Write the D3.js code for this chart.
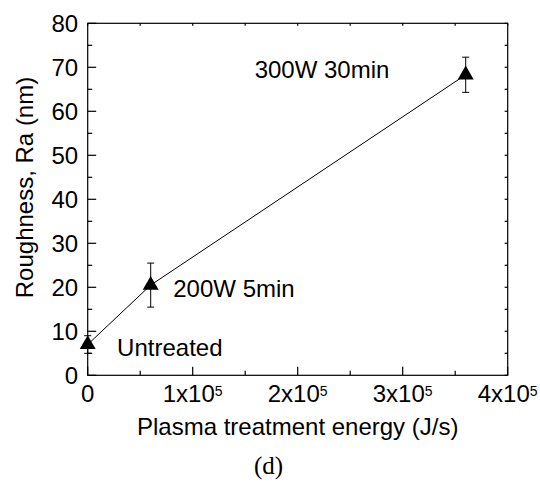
<!DOCTYPE html>
<html>
<head>
<meta charset="utf-8">
<script src="https://cdn.jsdelivr.net/npm/d3@7/dist/d3.min.js"></script>
<style>
  body { margin: 0; background: #fff; }
  svg { display: block; }
  text { font-family: "Liberation Sans", Arial, sans-serif; fill: #000; }
</style>
</head>
<body>
<svg id="chart" width="540" height="484"></svg>
<script>
// data
const labels = ['Untreated', '200W 5min', '300W 30min'];
const energy = [0, 6e4, 3.6e5];
const roughness = [7, 20.5, 68.3];
const errors = [2, 5, 4];
const xTicks = [0, 1e5, 2e5, 3e5, 4e5];
const yTicks = [0, 10, 20, 30, 40, 50, 60, 70, 80];
// label anchors (data units) for the annotation text
const labelX = [0.28e5, 0.815e5, 1.59e5];
const labelY = [4.5, 17.7, 67.5];

const svg = d3.select('#chart');
const plotL = 87.7, plotR = 507.7, plotT = 23.3, plotB = 375.3;

const x = d3.scaleLinear().domain([0, 4e5]).range([plotL, plotR]);
const y = d3.scaleLinear().domain([0, 80]).range([plotB, plotT]);

const minorX = d3.range(0, 4e5 + 1, 0.5e5);
const minorY = d3.range(0, 81, 5);

// frame
svg.append('rect')
  .attr('x', plotL).attr('y', plotT)
  .attr('width', plotR - plotL).attr('height', plotB - plotT)
  .attr('fill', 'none').attr('stroke', '#000').attr('stroke-width', 1.2);

const ticks = svg.append('g').attr('stroke', '#000').attr('stroke-width', 1.2);

// bottom ticks (inward), tiny ones on top
minorX.forEach(v => {
  const major = xTicks.includes(v);
  ticks.append('line')
    .attr('x1', x(v)).attr('x2', x(v))
    .attr('y1', plotB).attr('y2', plotB - (major ? 8.5 : 4.5));
  ticks.append('line')
    .attr('x1', x(v)).attr('x2', x(v))
    .attr('y1', plotT).attr('y2', plotT + 2.5);
});

// left ticks (inward), small ones on the right
minorY.forEach(v => {
  const major = yTicks.includes(v);
  ticks.append('line')
    .attr('x1', plotL).attr('x2', plotL + (major ? 8.5 : 4.5))
    .attr('y1', y(v)).attr('y2', y(v));
  ticks.append('line')
    .attr('x1', plotR).attr('x2', plotR - 3)
    .attr('y1', y(v)).attr('y2', y(v));
});

// y tick labels
svg.append('g').selectAll('text')
  .data(yTicks)
  .join('text')
  .attr('x', plotL - 9.5)
  .attr('y', d => y(d) + 8.7)
  .attr('text-anchor', 'end')
  .attr('font-size', 24)
  .text(d => d);

// x tick labels with superscripts
const xl = svg.append('g').selectAll('text')
  .data(xTicks)
  .join('text')
  .attr('x', d => x(d))
  .attr('y', plotB + 26.4)
  .attr('text-anchor', 'middle')
  .attr('font-size', 24);
xl.each(function (d) {
  const t = d3.select(this);
  if (d === 0) { t.text('0'); return; }
  t.append('tspan').text(`${d / 1e5}x10`);
  t.append('tspan').attr('font-size', 14).attr('dy', -6).text('5');
});

// axis titles
svg.append('text')
  .attr('x', (plotL + plotR) / 2)
  .attr('y', 435)
  .attr('text-anchor', 'middle')
  .attr('font-size', 24)
  .text('Plasma treatment energy (J/s)');

svg.append('text')
  .attr('transform', 'translate(33,187.5) rotate(-90)')
  .attr('text-anchor', 'middle')
  .attr('font-size', 24)
  .text('Roughness, Ra (nm)');

svg.append('text')
  .attr('x', 268.5)
  .attr('y', 474)
  .attr('text-anchor', 'middle')
  .attr('font-size', 25)
  .style('font-family', '"Liberation Serif", "Times New Roman", serif')
  .text('(d)');

// connecting line
const pts = energy.map((e, i) => [e, roughness[i]]);
svg.append('path')
  .datum(pts)
  .attr('fill', 'none')
  .attr('stroke', '#000')
  .attr('stroke-width', 1)
  .attr('d', d3.line().x(d => x(d[0])).y(d => y(d[1])));

// error bars
const eb = svg.append('g').attr('stroke', '#000').attr('stroke-width', 1);
energy.forEach((e, i) => {
  const cx = x(e), hi = y(roughness[i] + errors[i]), lo = y(roughness[i] - errors[i]);
  eb.append('line').attr('x1', cx).attr('x2', cx).attr('y1', hi).attr('y2', lo);
  eb.append('line').attr('x1', cx - 3.5).attr('x2', cx + 3.5).attr('y1', hi).attr('y2', hi);
  eb.append('line').attr('x1', cx - 3.5).attr('x2', cx + 3.5).attr('y1', lo).attr('y2', lo);
});

// triangle markers
svg.append('g').selectAll('path')
  .data(pts)
  .join('path')
  .attr('transform', d => `translate(${x(d[0])},${y(d[1])})`)
  .attr('d', d3.symbol().type(d3.symbolTriangle).size(110))
  .attr('fill', '#000');

// annotations
svg.append('g').selectAll('text')
  .data(labels)
  .join('text')
  .attr('x', (d, i) => x(labelX[i]))
  .attr('y', (d, i) => y(labelY[i]))
  .attr('font-size', 24)
  .text(d => d);
</script>
</body>
</html>
